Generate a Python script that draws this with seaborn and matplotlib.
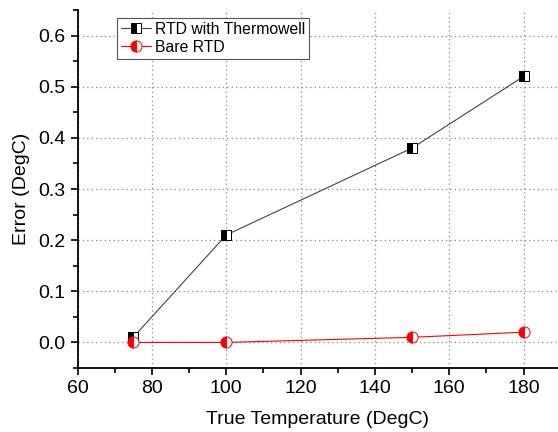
import matplotlib
matplotlib.use("Agg")
import matplotlib.pyplot as plt
import seaborn as sns
import pandas as pd
from matplotlib.ticker import MultipleLocator

temps = [75, 100, 150, 180]
thermowell = [0.01, 0.21, 0.38, 0.52]
bare = [0.0, 0.0, 0.01, 0.02]
labels = ["RTD with Thermowell", "Bare RTD"]

sns.set_style("ticks")
plt.rcParams['font.family'] = ['Liberation Sans', 'DejaVu Sans']
plt.rcParams['text.color'] = 'black'
plt.rcParams['axes.labelcolor'] = 'black'

fig = plt.figure(figsize=(5.58, 4.32), dpi=100)
ax = fig.add_axes([77.5/558, 1-368/432, (557-77.5)/558, (368-10)/432])

df = pd.DataFrame({"T": temps, "tw": thermowell, "bare": bare})
sns.lineplot(data=df, x="T", y="tw", ax=ax, color="#444444", lw=0.8,
             marker="s", markersize=7, fillstyle="left", markerfacecolor="black",
             markerfacecoloralt="white", markeredgecolor="black", markeredgewidth=0.7,
             label=labels[0])
sns.lineplot(data=df, x="T", y="bare", ax=ax, color="red", lw=0.8,
             marker="o", markersize=8, fillstyle="left", markerfacecolor="red",
             markerfacecoloralt="white", markeredgecolor="red", markeredgewidth=0.7,
             label=labels[1])

ax.set_xlim(60, 189)
ax.set_ylim(-0.05, 0.65)
ax.xaxis.set_major_locator(MultipleLocator(20))
ax.xaxis.set_minor_locator(MultipleLocator(10))
ax.yaxis.set_major_locator(MultipleLocator(0.1))
ax.yaxis.set_minor_locator(MultipleLocator(0.05))
ax.yaxis.set_major_formatter(matplotlib.ticker.FormatStrFormatter('%.1f'))
ax.grid(True, which='major', color='#888888', linestyle=(0, (1, 2.5)), lw=0.9)
for s in ['top', 'right']:
    ax.spines[s].set_visible(False)
for s in ['left', 'bottom']:
    ax.spines[s].set_color('black')
    ax.spines[s].set_linewidth(1.3)
ax.tick_params(which='major', direction='out', length=5, width=1.2, labelsize=14,
               colors='black', labelcolor='black')
ax.tick_params(which='minor', direction='out', length=3.5, width=1.2, colors='black')
ax.set_xlabel("True Temperature (DegC)", fontsize=14, labelpad=10, color='black')
ax.set_ylabel("Error (DegC)", fontsize=14, labelpad=6, color='black')

leg = ax.legend(loc='upper left', bbox_to_anchor=(0.082, 0.978), fontsize=11.3,
                frameon=True, fancybox=False, edgecolor='#555555', framealpha=1,
                handlelength=1.9, handletextpad=0.3, borderpad=0.25, labelspacing=0.2,
                borderaxespad=0)
leg.get_frame().set_linewidth(0.8)
for t in leg.get_texts():
    t.set_color('black')

fig.savefig("out.png", dpi=100)
